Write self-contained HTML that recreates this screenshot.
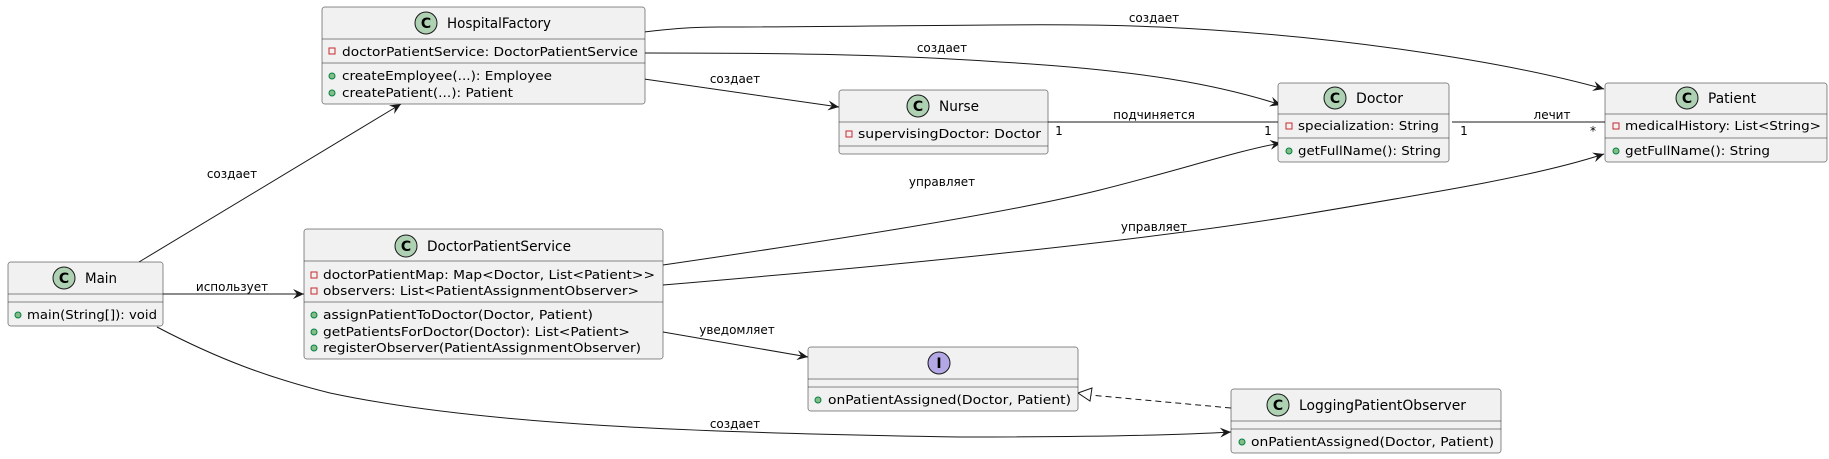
<!DOCTYPE html>
<html><head><meta charset="utf-8"><style>
html,body{margin:0;padding:0;background:#fff}
svg{display:block}
text{font-family:"DejaVu Sans","Liberation Sans",sans-serif;fill:#000}
.b{fill:#f1f1f1;stroke:#181818;stroke-width:0.5}
.s{stroke:#181818;stroke-width:0.5}
.e{fill:none;stroke:#181818;stroke-width:1}
.m{font-size:12.5px}
.n{font-size:14px}
.l{font-size:12px}
.cc{fill:#ADD1B2;stroke:#181818;stroke-width:1}
.ci{fill:#B4A7E5;stroke:#181818;stroke-width:1}
.pr{fill:none;stroke:#C82930;stroke-width:1}
.pu{fill:#84BE84;stroke:#038048;stroke-width:1}
</style></head><body>
<svg width="1829" height="459" viewBox="0 0 1829 459" xmlns="http://www.w3.org/2000/svg">
<defs>
<marker id="a" markerWidth="12" markerHeight="10" refX="11" refY="5" orient="auto" markerUnits="userSpaceOnUse">
<path d="M0,0 L11,5 L0,10 L4,5 Z" fill="#181818"/>
</marker>
</defs>

<!-- edges -->
<path class="e" d="M139,262 L401,104" marker-end="url(#a)"/>
<text class="l" x="232" y="178" text-anchor="middle">создает</text>
<path class="e" d="M163,294 L304,294" marker-end="url(#a)"/>
<text class="l" x="232" y="291" text-anchor="middle">использует</text>
<path class="e" d="M157,327 C220,360 270,378 330,393 C480,425 700,433 960,437 C1100,437 1180,435 1231,432" marker-end="url(#a)"/>
<text class="l" x="735" y="428" text-anchor="middle">создает</text>
<path class="e" d="M663,332 L808,357" marker-end="url(#a)"/>
<text class="l" x="737" y="334" text-anchor="middle">уведомляет</text>
<path d="M1231,408 L1090,395" fill="none" stroke="#181818" stroke-dasharray="6,4"/>
<path d="M1078,393 L1092,388 L1090,401 Z" fill="#fff" stroke="#181818"/>
<path class="e" d="M644,32 C670,29 690,27 720,27 C900,27 1050,22 1160,27 C1330,35 1500,60 1604,89" marker-end="url(#a)"/>
<text class="l" x="1154" y="22" text-anchor="middle">создает</text>
<path class="e" d="M644,53 C800,53 900,55 1000,62 C1140,70 1220,85 1281,105" marker-end="url(#a)"/>
<text class="l" x="942" y="52" text-anchor="middle">создает</text>
<path class="e" d="M644,79 L839,107" marker-end="url(#a)"/>
<text class="l" x="735" y="83" text-anchor="middle">создает</text>
<path class="e" d="M1048,122 L1281,122"/>
<text class="l" x="1154" y="119" text-anchor="middle">подчиняется</text>
<text class="l" x="1059" y="135" text-anchor="middle">1</text>
<text class="l" x="1268" y="135" text-anchor="middle">1</text>
<path class="e" d="M1452,122 L1605,122"/>
<text class="l" x="1552" y="119" text-anchor="middle">лечит</text>
<text class="l" x="1464" y="135" text-anchor="middle">1</text>
<text class="l" x="1593" y="135" text-anchor="middle">*</text>
<path class="e" d="M663,265 C800,245 1000,215 1100,190 C1180,170 1240,150 1281,143" marker-end="url(#a)"/>
<text class="l" x="942" y="186" text-anchor="middle">управляет</text>
<path class="e" d="M663,285 C900,265 1150,240 1300,215 C1450,190 1540,175 1604,154" marker-end="url(#a)"/>
<text class="l" x="1154" y="231" text-anchor="middle">управляет</text>

<!-- HospitalFactory -->
<rect class="b" x="322" y="7" width="323" height="97" rx="2.5"/>
<line class="s" x1="322" y1="39" x2="645" y2="39"/>
<line class="s" x1="322" y1="63" x2="645" y2="63"/>
<circle class="cc" cx="426" cy="23" r="11"/><text x="426" y="28" text-anchor="middle" style="font-size:14px;font-weight:bold">C</text>
<text class="n" x="447" y="28" textLength="104" lengthAdjust="spacingAndGlyphs">HospitalFactory</text>
<rect class="pr" x="329" y="48" width="6" height="6"/>
<text class="m" x="342" y="56" textLength="296" lengthAdjust="spacingAndGlyphs">doctorPatientService: DoctorPatientService</text>
<circle class="pu" cx="332" cy="76" r="3"/>
<text class="m" x="342" y="80" textLength="210" lengthAdjust="spacingAndGlyphs">createEmployee(...): Employee</text>
<circle class="pu" cx="332" cy="93" r="3"/>
<text class="m" x="342" y="97" textLength="171" lengthAdjust="spacingAndGlyphs">createPatient(...): Patient</text>

<!-- Main -->
<rect class="b" x="8" y="262" width="155" height="64" rx="2.5"/>
<line class="s" x1="8" y1="294" x2="163" y2="294"/>
<line class="s" x1="8" y1="302" x2="163" y2="302"/>
<circle class="cc" cx="64" cy="278" r="11"/><text x="64" y="283" text-anchor="middle" style="font-size:14px;font-weight:bold">C</text>
<text class="n" x="85" y="283" textLength="32" lengthAdjust="spacingAndGlyphs">Main</text>
<circle class="pu" cx="18" cy="315" r="3"/>
<text class="m" x="27" y="319" textLength="130" lengthAdjust="spacingAndGlyphs">main(String[]): void</text>

<!-- DoctorPatientService -->
<rect class="b" x="304" y="229" width="359" height="130" rx="2.5"/>
<line class="s" x1="304" y1="261" x2="663" y2="261"/>
<line class="s" x1="304" y1="302" x2="663" y2="302"/>
<circle class="cc" cx="406" cy="246" r="11"/><text x="406" y="251" text-anchor="middle" style="font-size:14px;font-weight:bold">C</text>
<text class="n" x="427" y="251" textLength="144" lengthAdjust="spacingAndGlyphs">DoctorPatientService</text>
<rect class="pr" x="311" y="272" width="6" height="6"/>
<text class="m" x="323" y="279" textLength="332" lengthAdjust="spacingAndGlyphs">doctorPatientMap: Map&lt;Doctor, List&lt;Patient&gt;&gt;</text>
<rect class="pr" x="311" y="288" width="6" height="6"/>
<text class="m" x="323" y="295" textLength="316" lengthAdjust="spacingAndGlyphs">observers: List&lt;PatientAssignmentObserver&gt;</text>
<circle class="pu" cx="314" cy="315" r="3"/>
<text class="m" x="323" y="319" textLength="270" lengthAdjust="spacingAndGlyphs">assignPatientToDoctor(Doctor, Patient)</text>
<circle class="pu" cx="314" cy="332" r="3"/>
<text class="m" x="323" y="336" textLength="307" lengthAdjust="spacingAndGlyphs">getPatientsForDoctor(Doctor): List&lt;Patient&gt;</text>
<circle class="pu" cx="314" cy="348" r="3"/>
<text class="m" x="323" y="352" textLength="318" lengthAdjust="spacingAndGlyphs">registerObserver(PatientAssignmentObserver)</text>

<!-- Nurse -->
<rect class="b" x="839" y="90" width="209" height="64" rx="2.5"/>
<line class="s" x1="839" y1="122" x2="1048" y2="122"/>
<line class="s" x1="839" y1="146" x2="1048" y2="146"/>
<circle class="cc" cx="918" cy="106" r="11"/><text x="918" y="111" text-anchor="middle" style="font-size:14px;font-weight:bold">C</text>
<text class="n" x="939" y="111" textLength="40" lengthAdjust="spacingAndGlyphs">Nurse</text>
<rect class="pr" x="846" y="131" width="6" height="6"/>
<text class="m" x="858" y="138" textLength="183" lengthAdjust="spacingAndGlyphs">supervisingDoctor: Doctor</text>

<!-- Doctor -->
<rect class="b" x="1278" y="83" width="171" height="79" rx="2.5"/>
<line class="s" x1="1278" y1="114" x2="1449" y2="114"/>
<line class="s" x1="1278" y1="138" x2="1449" y2="138"/>
<circle class="cc" cx="1335" cy="98" r="11"/><text x="1335" y="103" text-anchor="middle" style="font-size:14px;font-weight:bold">C</text>
<text class="n" x="1356" y="103" textLength="47" lengthAdjust="spacingAndGlyphs">Doctor</text>
<rect class="pr" x="1286" y="123" width="6" height="6"/>
<text class="m" x="1298" y="130" textLength="141" lengthAdjust="spacingAndGlyphs">specialization: String</text>
<circle class="pu" cx="1289" cy="151" r="3"/>
<text class="m" x="1298" y="155" textLength="143" lengthAdjust="spacingAndGlyphs">getFullName(): String</text>

<!-- Patient -->
<rect class="b" x="1605" y="83" width="222" height="79" rx="2.5"/>
<line class="s" x1="1605" y1="114" x2="1827" y2="114"/>
<line class="s" x1="1605" y1="138" x2="1827" y2="138"/>
<circle class="cc" cx="1687" cy="98" r="11"/><text x="1687" y="103" text-anchor="middle" style="font-size:14px;font-weight:bold">C</text>
<text class="n" x="1708" y="103" textLength="48" lengthAdjust="spacingAndGlyphs">Patient</text>
<rect class="pr" x="1613" y="123" width="6" height="6"/>
<text class="m" x="1625" y="130" textLength="196" lengthAdjust="spacingAndGlyphs">medicalHistory: List&lt;String&gt;</text>
<circle class="pu" cx="1616" cy="151" r="3"/>
<text class="m" x="1625" y="155" textLength="145" lengthAdjust="spacingAndGlyphs">getFullName(): String</text>

<!-- Interface -->
<rect class="b" x="808" y="347" width="270" height="64" rx="2.5"/>
<line class="s" x1="808" y1="379" x2="1078" y2="379"/>
<line class="s" x1="808" y1="387" x2="1078" y2="387"/>
<circle class="ci" cx="939" cy="363" r="11"/><text x="939" y="368" text-anchor="middle" style="font-size:14px;font-weight:bold">I</text>
<circle class="pu" cx="818" cy="400" r="3"/>
<text class="m" x="828" y="404" textLength="243" lengthAdjust="spacingAndGlyphs">onPatientAssigned(Doctor, Patient)</text>

<!-- LoggingPatientObserver -->
<rect class="b" x="1231" y="389" width="270" height="64" rx="2.5"/>
<line class="s" x1="1231" y1="421" x2="1501" y2="421"/>
<line class="s" x1="1231" y1="429" x2="1501" y2="429"/>
<circle class="cc" cx="1278" cy="405" r="11"/><text x="1278" y="410" text-anchor="middle" style="font-size:14px;font-weight:bold">C</text>
<text class="n" x="1299" y="410" textLength="167" lengthAdjust="spacingAndGlyphs">LoggingPatientObserver</text>
<circle class="pu" cx="1242" cy="442" r="3"/>
<text class="m" x="1251" y="446" textLength="243" lengthAdjust="spacingAndGlyphs">onPatientAssigned(Doctor, Patient)</text>
</svg>
</body></html>
